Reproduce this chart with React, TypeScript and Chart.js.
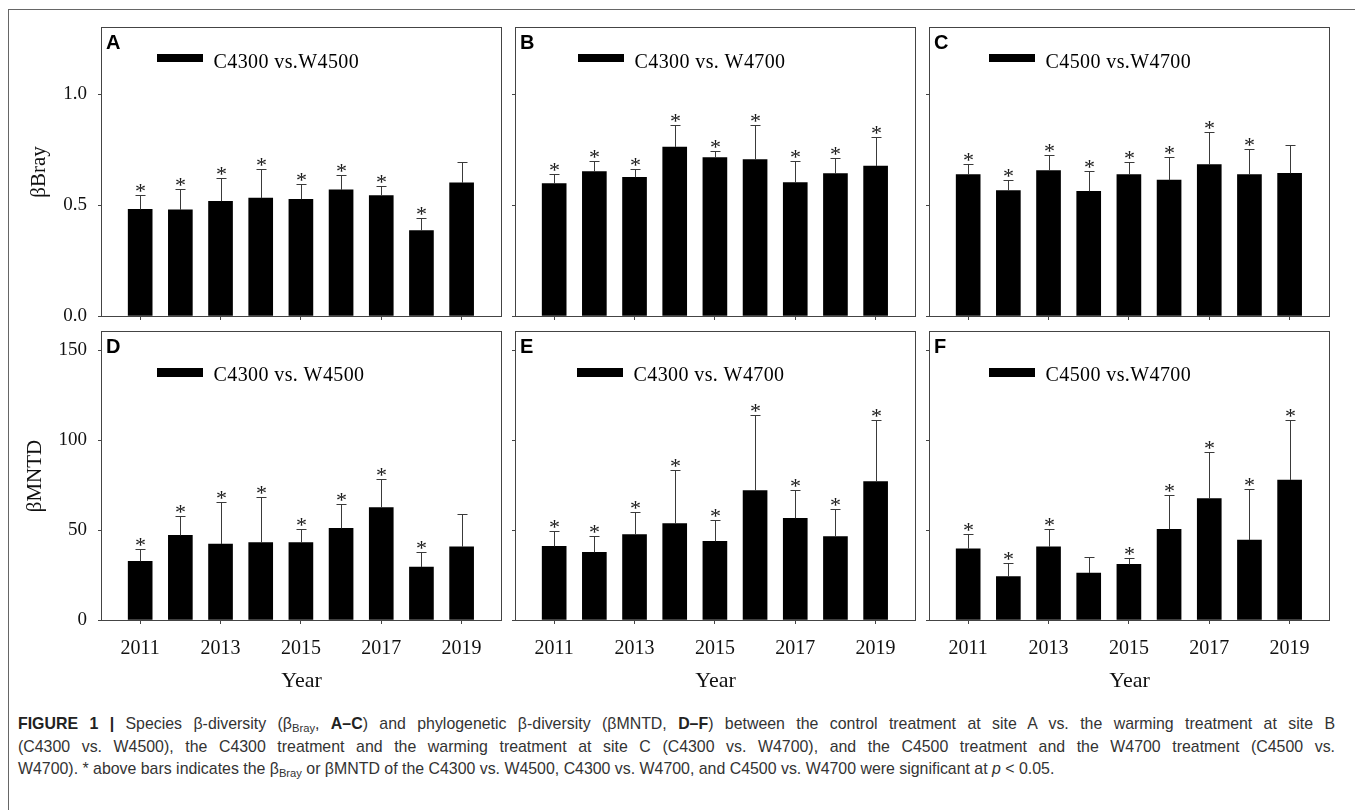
import React, { useEffect, useRef } from 'react';
import { Chart, registerables } from 'chart.js';

Chart.register(...registerables);

// ---------- data ----------
const years = [2011, 2012, 2013, 2014, 2015, 2016, 2017, 2018, 2019];
const yearTicks = [2011, 2013, 2015, 2017, 2019];
const brayTicks = [0, 0.5, 1.0];
const mntdTicks = [0, 50, 100, 150];

const brayA = [0.481, 0.479, 0.518, 0.532, 0.527, 0.569, 0.544, 0.386, 0.601];
const brayErrA = [0.063, 0.093, 0.107, 0.133, 0.069, 0.069, 0.042, 0.057, 0.096];
const braySigA = [1, 1, 1, 1, 1, 1, 1, 1, 0];

const brayB = [0.598, 0.652, 0.626, 0.763, 0.715, 0.706, 0.602, 0.643, 0.677];
const brayErrB = [0.043, 0.048, 0.039, 0.097, 0.03, 0.156, 0.098, 0.072, 0.131];
const braySigB = [1, 1, 1, 1, 1, 1, 1, 1, 1];

const brayC = [0.638, 0.566, 0.656, 0.563, 0.638, 0.613, 0.683, 0.638, 0.644];
const brayErrC = [0.048, 0.05, 0.072, 0.092, 0.056, 0.105, 0.147, 0.117, 0.126];
const braySigC = [1, 1, 1, 1, 1, 1, 1, 1, 0];

const mntdD = [32.6, 47.0, 42.2, 43.0, 43.0, 50.9, 62.4, 29.4, 40.7];
const mntdErrD = [7.0, 10.6, 23.5, 25.5, 7.7, 13.7, 15.9, 8.6, 18.0];
const mntdSigD = [1, 1, 1, 1, 1, 1, 1, 1, 0];

const mntdE = [40.9, 37.6, 47.4, 53.5, 43.7, 71.9, 56.5, 46.3, 76.9];
const mntdErrE = [8.4, 9.3, 12.4, 29.6, 11.7, 41.8, 15.5, 15.6, 34.0];
const mntdSigE = [1, 1, 1, 1, 1, 1, 1, 1, 1];

const mntdF = [39.6, 24.1, 40.7, 26.1, 30.9, 50.4, 67.4, 44.4, 77.8];
const mntdErrF = [8.4, 7.8, 10.0, 8.9, 3.4, 19.2, 25.7, 28.5, 33.3];
const mntdSigF = [1, 1, 1, 0, 1, 1, 1, 1, 1];

// ---------- layout / style ----------
const colLeft = [102, 516, 930];
const rowTop = [28, 332];
const plotW = 399;
const plotH = 288;
const SERIF = '"Liberation Serif", "Times New Roman", serif';
const SANS = '"Liberation Sans", Arial, sans-serif';

type PanelCfg = {
  letter: string;
  metric: 'bray' | 'mntd';
  values: number[];
  errors: number[];
  sig: number[];
  label: string;
  col: number;
  row: number;
  legendX: number;
};

const panels: PanelCfg[] = [
  { letter: 'A', metric: 'bray', values: brayA, errors: brayErrA, sig: braySigA, label: 'C4300 vs.W4500', col: 0, row: 0, legendX: 55 },
  { letter: 'B', metric: 'bray', values: brayB, errors: brayErrB, sig: braySigB, label: 'C4300 vs. W4700', col: 1, row: 0, legendX: 62 },
  { letter: 'C', metric: 'bray', values: brayC, errors: brayErrC, sig: braySigC, label: 'C4500 vs.W4700', col: 2, row: 0, legendX: 59 },
  { letter: 'D', metric: 'mntd', values: mntdD, errors: mntdErrD, sig: mntdSigD, label: 'C4300 vs. W4500', col: 0, row: 1, legendX: 55 },
  { letter: 'E', metric: 'mntd', values: mntdE, errors: mntdErrE, sig: mntdSigE, label: 'C4300 vs. W4700', col: 1, row: 1, legendX: 61 },
  { letter: 'F', metric: 'mntd', values: mntdF, errors: mntdErrF, sig: mntdSigF, label: 'C4500 vs.W4700', col: 2, row: 1, legendX: 59 },
];

function Panel({ cfg }: { cfg: PanelCfg }) {
  const ref = useRef<HTMLCanvasElement>(null);
  const L = colLeft[cfg.col];
  const T = rowTop[cfg.row];
  const yAxisW = cfg.col === 0 ? 92 : 10;
  const padRight = 8;
  const padTop = 24;
  const xAxisH = cfg.row === 0 ? 24 : 74;
  const cLeft = L - yAxisW;
  const cTop = T - padTop;
  const cW = yAxisW + plotW + padRight;
  const cH = padTop + plotH + xAxisH;

  useEffect(() => {
    if (!ref.current) return;
    const isBray = cfg.metric === 'bray';
    const legBoxTop = cfg.row === 0 ? 26 : 36;
    const legBoxH = cfg.row === 0 ? 8 : 9;
    const legBase = cfg.row === 0 ? 39.5 : 48.5;

    const decor = {
      id: 'decor',
      afterDatasetsDraw(chart: any) {
        const ctx = chart.ctx as CanvasRenderingContext2D;
        const yScale = chart.scales.y;
        const meta = chart.getDatasetMeta(0);
        ctx.save();
        meta.data.forEach((bar: any, i: number) => {
          const x = Math.round(bar.x) + 0.5;
          const yb = bar.y;
          const yt = Math.round(yScale.getPixelForValue(cfg.values[i] + cfg.errors[i])) + 0.5;
          ctx.strokeStyle = '#3a3a3a';
          ctx.lineWidth = 1;
          ctx.beginPath();
          ctx.moveTo(x, yb);
          ctx.lineTo(x, yt);
          ctx.moveTo(x - 5, yt);
          ctx.lineTo(x + 5, yt);
          ctx.stroke();
          if (cfg.sig[i]) {
            ctx.fillStyle = '#1a1a1a';
            ctx.font = `22px ${SERIF}`;
            ctx.textAlign = 'center';
            ctx.textBaseline = 'alphabetic';
            ctx.fillText('*', x, yt + 2);
          }
        });
        ctx.restore();
      },
      afterDraw(chart: any) {
        const ctx = chart.ctx as CanvasRenderingContext2D;
        const a = chart.chartArea;
        ctx.save();
        // frame
        ctx.strokeStyle = '#444';
        ctx.lineWidth = 1;
        ctx.strokeRect(a.left - 0.5, a.top - 0.5, a.right - a.left + 1, a.bottom - a.top + 1);
        // panel letter
        ctx.fillStyle = '#000';
        ctx.font = `bold 20px ${SANS}`;
        ctx.textAlign = 'left';
        ctx.textBaseline = 'alphabetic';
        ctx.fillText(cfg.letter, a.left + 4, a.top + 21);
        // legend
        const ds = chart.data.datasets[0];
        ctx.fillStyle = '#000';
        ctx.fillRect(a.left + cfg.legendX, a.top + legBoxTop, 46, legBoxH);
        ctx.font = `20px ${SERIF}`;
        try { (ctx as any).letterSpacing = '0.4px'; } catch (e) {}
        ctx.fillText(ds.label, a.left + cfg.legendX + 56.5, a.top + legBase);
        ctx.restore();
      },
    };

    const chart = new Chart(ref.current, {
      type: 'bar',
      data: {
        datasets: [
          {
            label: cfg.label,
            data: years.map((yr, i) => ({ x: yr, y: cfg.values[i] })),
            backgroundColor: '#000',
            borderWidth: 0,
            barThickness: 24,
          } as any,
        ],
      },
      options: {
        animation: false,
        responsive: false,
        events: [],
        layout: { padding: { left: 0, right: padRight, top: padTop, bottom: 0 } },
        plugins: { legend: { display: false }, tooltip: { enabled: false } },
        scales: {
          x: {
            type: 'linear',
            min: 2010.05,
            max: 2019.98,
            offset: false,
            afterBuildTicks: (s: any) => {
              s.ticks = yearTicks.map((v) => ({ value: v }));
            },
            afterFit: (s: any) => {
              s.height = xAxisH;
            },
            grid: { display: true, drawOnChartArea: false, drawTicks: true, tickLength: 4, color: '#444', offset: false },
            border: { display: false },
            ticks: {
              display: cfg.row === 1,
              padding: 13,
              autoSkip: false,
              maxRotation: 0,
              color: '#111',
              font: { family: SERIF, size: 20 },
              callback: (v: any) => String(v),
            },
            title: {
              display: cfg.row === 1,
              text: 'Year',
              color: '#111',
              font: { family: SERIF, size: 22 },
              padding: { top: 0, bottom: 0 },
            },
          },
          y: {
            type: 'linear',
            min: 0,
            max: isBray ? 1.3 : 160,
            afterBuildTicks: (s: any) => {
              s.ticks = (isBray ? brayTicks : mntdTicks).map((v) => ({ value: v }));
            },
            afterFit: (s: any) => {
              s.width = yAxisW;
            },
            grid: { display: true, drawOnChartArea: false, drawTicks: true, tickLength: 4, color: '#444' },
            border: { display: false },
            ticks: {
              display: cfg.col === 0,
              padding: 11,
              color: '#111',
              font: { family: SERIF, size: 19 },
              callback: (v: any) => (isBray ? Number(v).toFixed(1) : String(v)),
            },
            title: {
              display: cfg.col === 0,
              text: isBray ? 'βBray' : 'βMNTD',
              color: '#111',
              font: { family: SERIF, size: 21 },
              padding: { top: isBray ? 16.8 : 13.1, bottom: 0 },
            },
          },
        },
      } as any,
      plugins: [decor],
    });
    return () => chart.destroy();
  }, []);

  return (
    <canvas
      ref={ref}
      width={cW}
      height={cH}
      style={{ position: 'absolute', left: cLeft, top: cTop, width: cW, height: cH }}
    />
  );
}

const capStyle: React.CSSProperties = {
  position: 'absolute',
  left: 18,
  fontFamily: SANS,
  fontSize: 15.9,
  lineHeight: '18px',
  color: '#333',
  textAlign: 'justify',
  textAlignLast: 'justify' as any,
};
const subStyle: React.CSSProperties = { fontSize: 11.2, lineHeight: 0, verticalAlign: '-3px' };

export default function App() {
  return (
    <div
      style={{
        position: 'absolute',
        left: 0,
        top: 0,
        width: 1355,
        height: 810,
        overflow: 'hidden',
        background: '#fff',
      }}
    >
      <div
        style={{
          position: 'absolute',
          left: 8,
          top: 9,
          width: 1400,
          height: 900,
          borderTop: '1px solid #666',
          borderLeft: '1px solid #666',
        }}
      />
      {panels.map((p) => (
        <Panel key={p.letter} cfg={p} />
      ))}
      <div style={{ ...capStyle, top: 714.5, width: 1317 }}>
        <b style={{ color: '#222' }}>FIGURE 1 |</b> Species β-diversity (β<sub style={subStyle}>Bray</sub>,{' '}
        <b style={{ color: '#222' }}>A–C</b>) and phylogenetic β-diversity (βMNTD, <b style={{ color: '#222' }}>D–F</b>)
        between the control treatment at site A vs. the warming treatment at site B
      </div>
      <div style={{ ...capStyle, top: 737.5, width: 1317 }}>
        (C4300 vs. W4500), the C4300 treatment and the warming treatment at site C (C4300 vs. W4700), and the C4500
        treatment and the W4700 treatment (C4500 vs.
      </div>
      <div style={{ ...capStyle, top: 760, width: 1200, textAlign: 'left', textAlignLast: 'left' as any, whiteSpace: 'nowrap' }}>
        W4700). * above bars indicates the β<sub style={subStyle}>Bray</sub> or βMNTD of the C4300 vs. W4500, C4300 vs.
        W4700, and C4500 vs. W4700 were significant at <i>p</i> &lt; 0.05.
      </div>
    </div>
  );
}
